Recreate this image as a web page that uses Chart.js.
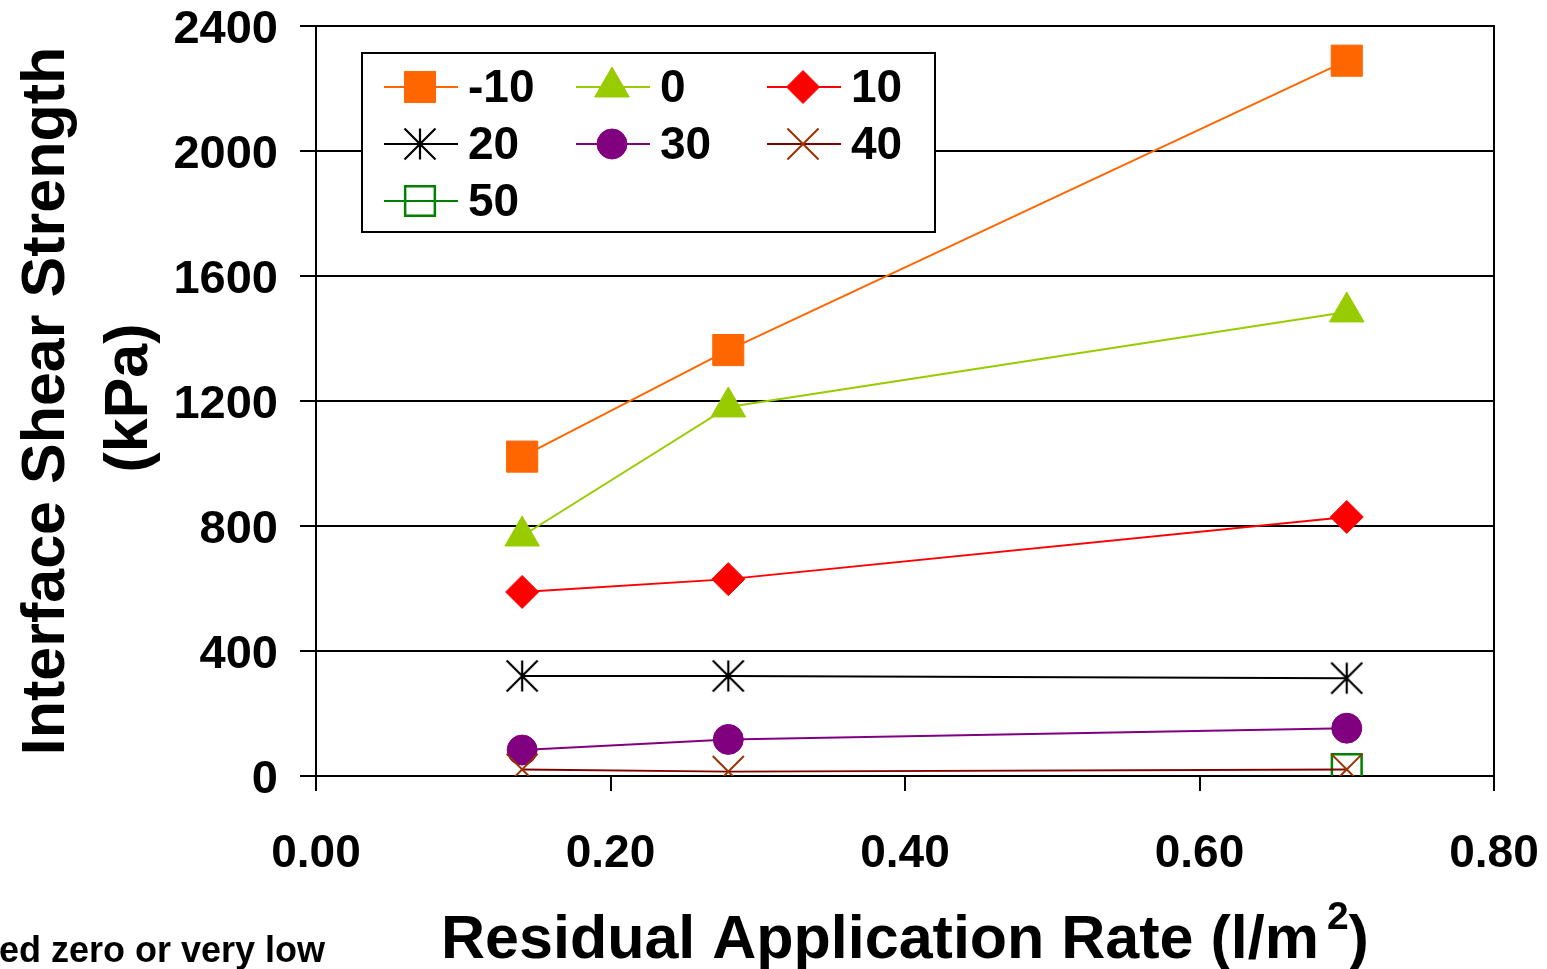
<!DOCTYPE html>
<html>
<head>
<meta charset="utf-8">
<script src="https://cdn.jsdelivr.net/npm/chart.js@4"></script>
<style>
  html, body { margin: 0; padding: 0; background: #fff; }
  #chart { display: block; }
</style>
</head>
<body>
<canvas id="chart" width="1547" height="969"></canvas>
<script>
// Residual application rate (l/m2) and temperature series
const rates = [0.14, 0.28, 0.70];
const temps = ['-10', '0', '10', '20', '30', '40', '50'];
const sMinus10 = [1022, 1363, 2289];
const s0 = [768, 1181, 1485];
const s10 = [589, 630, 829];
const s20 = [320, 320, 313];
const s30 = [83, 117, 153];
const s40 = [21, 14, 21];
const s50 = [null, null, 22];
const yTicks = [0, 400, 800, 1200, 1600, 2000, 2400];
const xTicks = [0, 0.2, 0.4, 0.6, 0.8];

const FONT = '"Liberation Sans", Arial, sans-serif';

// asterisk marker (vertical + two diagonals), like the spreadsheet "*" marker
function makeStar(size, color) {
    const c = document.createElement('canvas');
    c.width = size; c.height = size;
    const g = c.getContext('2d');
    g.strokeStyle = color;
    g.lineWidth = 2.2;
    const m = 1.5, h = size / 2;
    g.beginPath();
    g.moveTo(h, m); g.lineTo(h, size - m);
    g.moveTo(m, m); g.lineTo(size - m, size - m);
    g.moveTo(size - m, m); g.lineTo(m, size - m);
    g.stroke();
    return c;
}
const starImg = makeStar(34, '#000000');

function pts(vals) {
    return rates.map((r, i) => ({ x: r, y: vals[i] })).filter(p => p.y !== null);
}

const seriesDefs = [
    { vals: sMinus10, line: '#FF6600', fill: '#FF6600', edge: '#FF6600', style: 'rect', r: 22, bw: 1 },
    { vals: s0, line: '#99CC00', fill: '#99CC00', edge: '#99CC00', style: 'triangle', r: 20, bw: 1 },
    { vals: s10, line: '#FF0000', fill: '#FF0000', edge: '#FF0000', style: 'rectRot', r: 16.5, bw: 1 },
    { vals: s20, line: '#000000', fill: '#000000', edge: '#000000', style: starImg, r: 17, bw: 2 },
    { vals: s30, line: '#800080', fill: '#800080', edge: '#800080', style: 'circle', r: 15, bw: 1 },
    { vals: s40, line: '#800000', fill: 'rgba(0,0,0,0)', edge: '#993300', style: 'crossRot', r: 22, bw: 2 },
    { vals: s50, line: '#008000', fill: 'rgba(0,0,0,0)', edge: '#008000', style: 'rect', r: 21, bw: 2.5 }
];
const drawOrder = [-1, -2, -3, -4, -5, -7, -6];

const datasets = seriesDefs.map((d, i) => ({
    label: temps[i],
    data: pts(d.vals),
    borderColor: d.line,
    borderWidth: 2,
    backgroundColor: d.fill,
    pointBackgroundColor: d.fill,
    pointBorderColor: d.edge,
    pointBorderWidth: d.bw,
    pointStyle: d.style,
    pointRadius: d.r,
    pointHoverRadius: d.r,
    tension: 0,
    fill: false,
    order: drawOrder[i]
}));

// legend grid: 3 columns (left end of sample line), 3 rows
const legendCols = [384, 576, 767];
const legendRows = [87, 144, 201];

const extras = {
    id: 'extras',
    afterDraw(chart) {
        const ctx = chart.ctx;
        const a = chart.chartArea;
        const ys = chart.scales.y;
        ctx.save();
        // right border of plot area
        ctx.strokeStyle = '#000';
        ctx.lineWidth = 2;
        ctx.beginPath();
        ctx.moveTo(a.right, a.top - 1);
        ctx.lineTo(a.right, a.bottom);
        ctx.stroke();

        // y tick labels, sitting a little below their grid line
        ctx.fillStyle = '#000';
        ctx.font = 'bold 47px ' + FONT;
        ctx.textAlign = 'right';
        ctx.textBaseline = 'middle';
        ys.ticks.forEach(t => {
            ctx.fillText(String(t.value), 278, ys.getPixelForValue(t.value) + 4);
        });

        // legend box
        ctx.fillStyle = '#fff';
        ctx.fillRect(362, 53, 573, 179);
        ctx.strokeRect(362, 53, 573, 179);
        ctx.font = 'bold 46px ' + FONT;
        ctx.textBaseline = 'middle';
        ctx.textAlign = 'left';
        seriesDefs.forEach((d, i) => {
            const cx = legendCols[i % 3];
            const cy = legendRows[Math.floor(i / 3)];
            ctx.strokeStyle = d.line;
            ctx.lineWidth = 2;
            ctx.beginPath();
            ctx.moveTo(cx, cy);
            ctx.lineTo(cx + 74, cy);
            ctx.stroke();
            ctx.fillStyle = d.fill;
            ctx.strokeStyle = d.edge;
            ctx.lineWidth = d.bw;
            Chart.helpers.drawPoint(ctx, { pointStyle: d.style, radius: d.r, rotation: 0, borderWidth: d.bw }, cx + 36, cy);
            ctx.fillStyle = '#000';
            ctx.fillText(temps[i], cx + 84, cy + 2);
        });

        // axis titles
        ctx.fillStyle = '#000';
        ctx.textBaseline = 'alphabetic';
        ctx.textAlign = 'center';
        ctx.font = 'bold 61px ' + FONT;
        ctx.save();
        ctx.translate(64, 401);
        ctx.rotate(-Math.PI / 2);
        ctx.fillText('Interface Shear Strength', 0, 0);
        ctx.restore();
        ctx.save();
        ctx.translate(147, 398);
        ctx.rotate(-Math.PI / 2);
        ctx.fillText('(kPa)', 0, 0);
        ctx.restore();

        // x title with superscript
        const t1 = 'Residual Application Rate (l/m';
        const big = 'bold 61px ' + FONT, small = 'bold 39px ' + FONT;
        ctx.font = big;
        const w1 = ctx.measureText(t1).width;
        const w3 = ctx.measureText(')').width;
        ctx.font = small;
        const w2 = ctx.measureText('2').width;
        const gap = 8;
        const total = w1 + gap + w2 + w3;
        let x = 905 - total / 2;
        const base = 958;
        ctx.textAlign = 'left';
        ctx.font = big;
        ctx.fillText(t1, x, base);
        x += w1 + gap;
        ctx.font = small;
        ctx.fillText('2', x, base - 29);
        x += w2;
        ctx.font = big;
        ctx.fillText(')', x, base);

        // cut-off footnote at lower left
        ctx.font = 'bold 36px ' + FONT;
        ctx.fillText('ed zero or very low', -1, 962);
        ctx.restore();
    }
};

new Chart(document.getElementById('chart'), {
    type: 'line',
    data: { datasets: datasets },
    options: {
        responsive: false,
        animation: false,
        devicePixelRatio: 1,
        layout: { padding: { left: 0, top: 26, right: 53, bottom: 0 } },
        plugins: { legend: { display: false }, tooltip: { enabled: false } },
        scales: {
            x: {
                type: 'linear',
                min: 0,
                max: 0.8,
                afterBuildTicks: s => { s.ticks = xTicks.map(v => ({ value: v })); },
                afterFit: s => { s.height = 193; s.paddingLeft = 0; s.paddingRight = 0; },
                ticks: {
                    color: '#000',
                    font: { family: FONT, size: 46, weight: 'bold' },
                    padding: 36,
                    maxRotation: 0,
                    callback: v => Number(v).toFixed(2)
                },
                grid: { drawOnChartArea: false, drawTicks: true, tickLength: 15, color: '#000', lineWidth: 2 },
                border: { display: true, color: '#000', width: 2 }
            },
            y: {
                min: 0,
                max: 2400,
                afterBuildTicks: s => { s.ticks = yTicks.map(v => ({ value: v })); },
                afterFit: s => { s.width = 316; s.paddingTop = 0; s.paddingBottom = 0; },
                ticks: { display: false },
                grid: { color: '#000', lineWidth: 2, drawTicks: true, tickLength: 16 },
                border: { display: true, color: '#000', width: 2 }
            }
        }
    },
    plugins: [extras]
});
</script>
</body>
</html>
